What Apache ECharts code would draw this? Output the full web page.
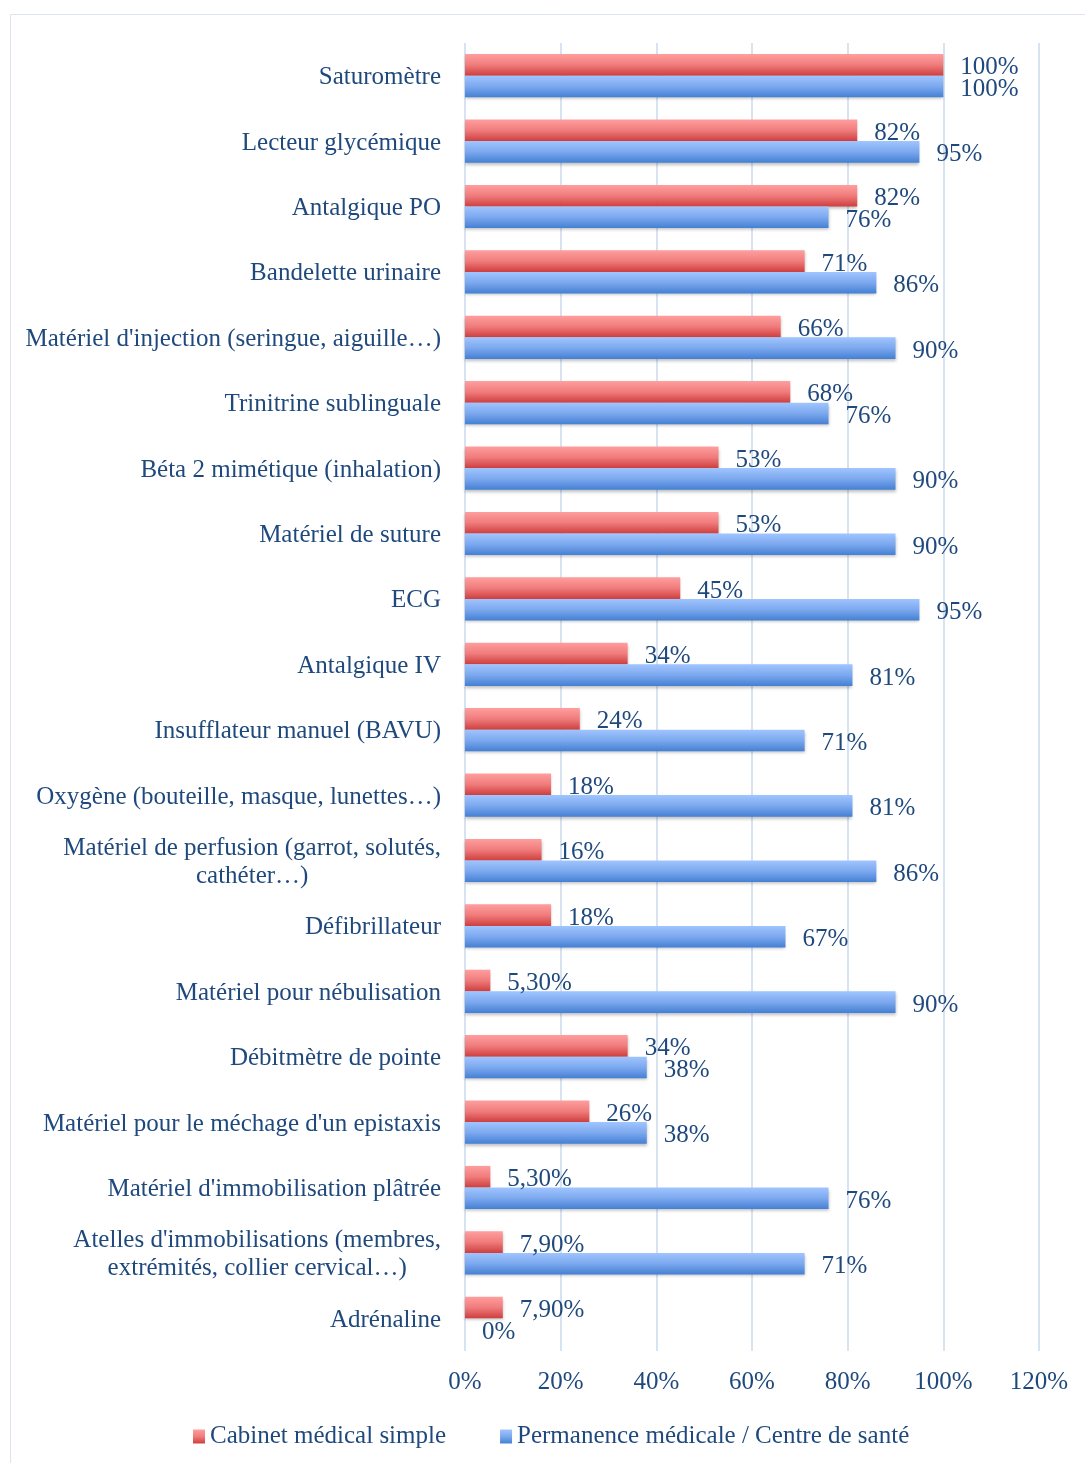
<!DOCTYPE html>
<html>
<head>
<meta charset="utf-8">
<script src="https://cdn.jsdelivr.net/npm/echarts@6/dist/echarts.min.js"></script>
<style>
html,body{margin:0;padding:0;background:#fff;}
#chart{width:1085px;height:1463px;}
</style>
</head>
<body>
<div id="chart"></div>
<script>
const categories = [
  "Saturomètre",
  "Lecteur glycémique",
  "Antalgique PO",
  "Bandelette urinaire",
  "Matériel d'injection (seringue, aiguille…)",
  "Trinitrine sublinguale",
  "Béta 2 mimétique (inhalation)",
  "Matériel de suture",
  "ECG",
  "Antalgique IV",
  "Insufflateur manuel (BAVU)",
  "Oxygène (bouteille, masque, lunettes…)",
  "Matériel de perfusion (garrot, solutés,\ncathéter…)",
  "Défibrillateur",
  "Matériel pour nébulisation",
  "Débitmètre de pointe",
  "Matériel pour le méchage d'un epistaxis",
  "Matériel d'immobilisation plâtrée",
  "Atelles d'immobilisations (membres,\nextrémités, collier cervical…)",
  "Adrénaline"
];
const cabinet = [100, 82, 82, 71, 66, 68, 53, 53, 45, 34, 24, 18, 16, 18, 5.3, 34, 26, 5.3, 7.9, 7.9];
const permanence = [100, 95, 76, 86, 90, 76, 90, 90, 95, 81, 71, 81, 86, 67, 90, 38, 38, 76, 71, 0];
const seriesNames = ["Cabinet médical simple", "Permanence médicale / Centre de santé"];
const xTicks = [0, 20, 40, 60, 80, 100, 120];

const FONT = "'Liberation Serif', serif";
const TXT = "#1F497D";
const FS = 25;

function fmt(v) {
  if (Number.isInteger(v)) return v + "%";
  return v.toFixed(2).replace(".", ",") + "%";
}

const redGrad = new echarts.graphic.LinearGradient(0, 0, 0, 1, [
  {offset: 0, color: "#FF9E9E"},
  {offset: 0.5, color: "#F07C7C"},
  {offset: 1, color: "#CF3E3E"}
]);
const blueGrad = new echarts.graphic.LinearGradient(0, 0, 0, 1, [
  {offset: 0, color: "#A0C5FF"},
  {offset: 0.5, color: "#7CA8EE"},
  {offset: 1, color: "#4480D4"}
]);

const labelCommon = {
  show: true,
  position: "right",
  distance: 17,
  offset: [0, 3],
  fontFamily: FONT,
  fontSize: FS,
  color: TXT,
  formatter: p => fmt(p.value)
};

const chart = echarts.init(document.getElementById("chart"), null, {renderer: "canvas"});
chart.setOption({
  animation: false,
  backgroundColor: "#fff",
  graphic: [{
    type: "rect",
    shape: {x: 10.5, y: 14.5, width: 1200, height: 1600},
    style: {fill: "none", stroke: "#DCE5EF", lineWidth: 1},
    silent: true
  }],
  grid: {left: 465, right: 46, top: 43, height: 1308},
  xAxis: {
    type: "value",
    min: xTicks[0],
    max: xTicks[xTicks.length - 1],
    interval: 20,
    axisLine: {show: false},
    axisTick: {show: false},
    splitLine: {show: true, lineStyle: {color: "#D8E3F2", width: 2}},
    axisLabel: {
      margin: 19,
      fontFamily: FONT, fontSize: FS, color: TXT,
      formatter: v => v + "%"
    }
  },
  yAxis: {
    type: "category",
    inverse: true,
    data: categories,
    axisLine: {show: false},
    axisTick: {show: false},
    axisLabel: {
      margin: 24,
      fontFamily: FONT, fontSize: FS, color: TXT,
      lineHeight: 28,
      padding: [4, 0, 0, 0],
      formatter: v => v.split("\n").map(l => "{c|" + l + "}").join("\n"),
      rich: {c: {align: "center", fontFamily: FONT, fontSize: FS, color: TXT, lineHeight: 28}}
    }
  },
  legend: {
    left: 188,
    top: 1419,
    itemWidth: 12,
    itemHeight: 14,
    itemGap: 54,
    icon: "rect",
    textStyle: {fontFamily: FONT, fontSize: FS, color: TXT},
    data: seriesNames
  },
  series: [
    {
      name: seriesNames[0],
      type: "bar",
      data: cabinet,
      barCategoryGap: "34%",
      barGap: "0%",
      itemStyle: {color: redGrad, shadowColor: "rgba(0,0,0,0.25)", shadowBlur: 3, shadowOffsetY: 2},
      label: labelCommon
    },
    {
      name: seriesNames[1],
      type: "bar",
      data: permanence,
      barCategoryGap: "34%",
      barGap: "0%",
      itemStyle: {color: blueGrad, shadowColor: "rgba(0,0,0,0.25)", shadowBlur: 3, shadowOffsetY: 2},
      label: labelCommon
    }
  ]
});
</script>
</body>
</html>
